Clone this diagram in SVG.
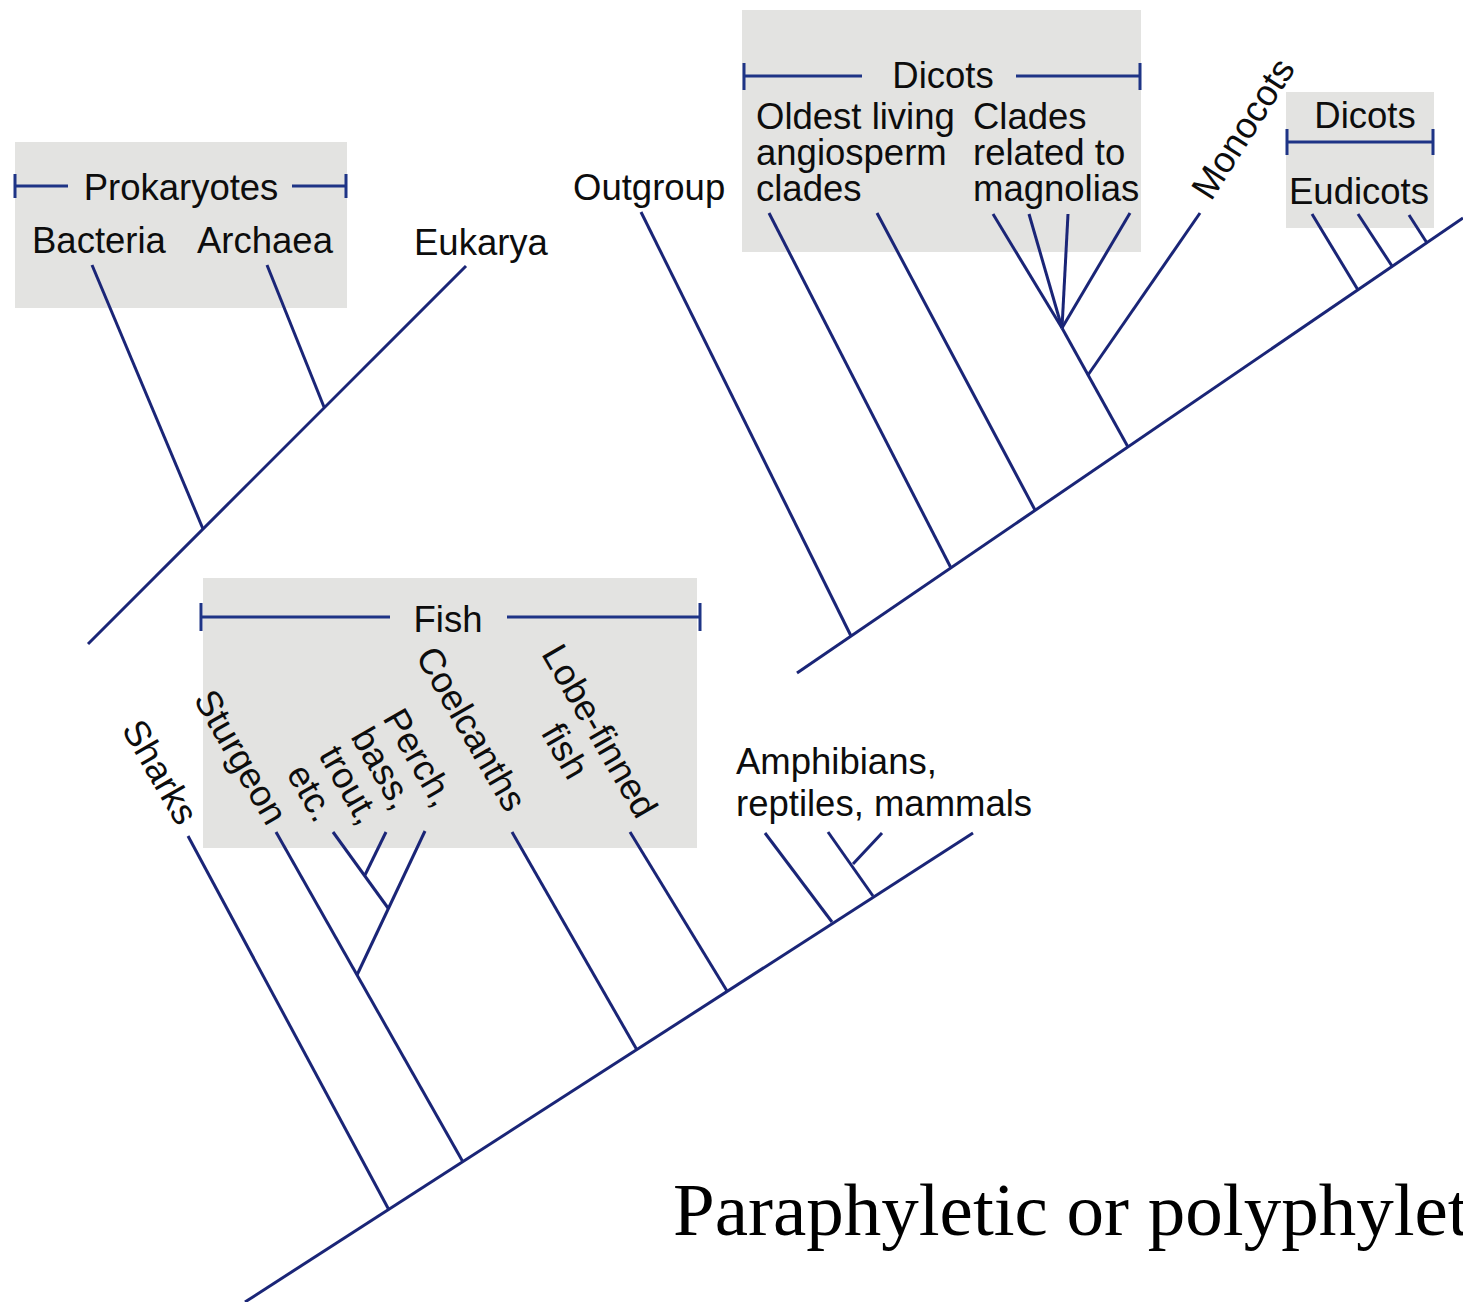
<svg xmlns="http://www.w3.org/2000/svg" width="1463" height="1302" viewBox="0 0 1463 1302">
<style>
.bg{fill:#ffffff}
.box{fill:#e3e3e1}
.ln{stroke:#1a2577;stroke-width:3;stroke-linecap:butt;fill:none}
.br{stroke:#1e3486;stroke-width:3;fill:none}
.t{font-family:"Liberation Sans",Arial,sans-serif;font-size:36.5px;fill:#0d0d0d}
.s{font-family:"Liberation Serif","Times New Roman",serif;font-size:75px;fill:#000}
</style>
<rect class="bg" x="0" y="0" width="1463" height="1302"/>
<g id="boxes">
<rect class="box" x="15" y="142" width="332" height="166"/>
<rect class="box" x="742" y="10" width="399" height="242"/>
<rect class="box" x="1286" y="92" width="148" height="136"/>
<rect class="box" x="203" y="578" width="494" height="270"/>
</g>
<g id="connectors">
<line class="ln" x1="88" y1="644" x2="466" y2="266"/>
<line class="ln" x1="92" y1="265" x2="203" y2="529"/>
<line class="ln" x1="267" y1="265" x2="324" y2="407"/>
<line class="ln" x1="797" y1="673" x2="1463" y2="218"/>
<line class="ln" x1="641" y1="212" x2="851" y2="636"/>
<line class="ln" x1="769" y1="213" x2="951" y2="568"/>
<line class="ln" x1="877" y1="213" x2="1035" y2="510"/>
<line class="ln" x1="1128" y1="447" x2="1062" y2="328"/>
<line class="ln" x1="1062" y1="328" x2="993" y2="214"/>
<line class="ln" x1="1062" y1="328" x2="1029" y2="214"/>
<line class="ln" x1="1062" y1="328" x2="1068" y2="214"/>
<line class="ln" x1="1062" y1="328" x2="1130" y2="213"/>
<line class="ln" x1="1088" y1="375" x2="1200" y2="213"/>
<line class="ln" x1="1312" y1="214" x2="1358" y2="290"/>
<line class="ln" x1="1358" y1="214" x2="1392" y2="266"/>
<line class="ln" x1="1409" y1="215" x2="1427" y2="243"/>
<line class="ln" x1="245" y1="1302" x2="973" y2="833"/>
<line class="ln" x1="188" y1="836" x2="389" y2="1210"/>
<line class="ln" x1="276" y1="832" x2="463" y2="1162"/>
<line class="ln" x1="425" y1="831" x2="357" y2="975"/>
<line class="ln" x1="333" y1="832" x2="388" y2="908"/>
<line class="ln" x1="386" y1="832" x2="365" y2="875"/>
<line class="ln" x1="512" y1="832" x2="637" y2="1050"/>
<line class="ln" x1="630" y1="832" x2="727" y2="991"/>
<line class="ln" x1="765" y1="833" x2="832" y2="922"/>
<line class="ln" x1="828" y1="832" x2="873" y2="896"/>
<line class="ln" x1="853" y1="864" x2="882" y2="833"/>
</g>
<g id="brackets">
<path class="br" d="M15 186H68M292 186H346M15 174V198M346 174V198"/>
<path class="br" d="M744 76H862M1016 76H1140M744 63V90M1140 63V90"/>
<path class="br" d="M1287 142H1433M1287 129V155M1433 129V155"/>
<path class="br" d="M201 617H390M507 617H700M201 603V631M700 603V631"/>
</g>
<g id="prokaryotes"><text class="t" x="181" y="200" text-anchor="middle">Prokaryotes</text></g>
<g id="bacteria"><text class="t" x="32" y="253">Bacteria</text></g>
<g id="archaea"><text class="t" x="197" y="253">Archaea</text></g>
<g id="eukarya"><text class="t" x="414" y="255">Eukarya</text></g>
<g id="outgroup"><text class="t" x="573" y="200">Outgroup</text></g>
<g id="dicots-top"><text class="t" x="943" y="88" text-anchor="middle">Dicots</text></g>
<g id="oldest"><text class="t" x="756" y="129">Oldest living<tspan x="756" dy="36">angiosperm</tspan><tspan x="756" dy="36">clades</tspan></text></g>
<g id="magnolias"><text class="t" x="973" y="129">Clades<tspan x="973" dy="36">related to</tspan><tspan x="973" dy="36">magnolias</tspan></text></g>
<g id="monocots"><text class="t" transform="translate(1211,202) rotate(-57.5)">Monocots</text></g>
<g id="dicots-right"><text class="t" x="1365" y="128" text-anchor="middle">Dicots</text></g>
<g id="eudicots"><text class="t" x="1289" y="204">Eudicots</text></g>
<g id="fish"><text class="t" x="448" y="632" text-anchor="middle">Fish</text></g>
<g id="sharks"><text class="t" transform="translate(121,729) rotate(60)">Sharks</text></g>
<g id="sturgeon"><text class="t" transform="translate(193,699) rotate(60)">Sturgeon</text></g>
<g id="perch"><text class="t" transform="translate(382,718) rotate(60)">Perch,<tspan x="0" dy="37">bass,</tspan><tspan x="0" dy="37">trout,</tspan><tspan x="0" dy="37">etc.</tspan></text></g>
<g id="coelcanths"><text class="t" transform="translate(415,656) rotate(60)">Coelcanths</text></g>
<g id="lobefinned"><text class="t" transform="translate(541,654) rotate(60)" text-anchor="middle"><tspan x="96" y="0">Lobe-finned</tspan><tspan x="96" dy="40">fish</tspan></text></g>
<g id="amphibians"><text class="t" x="736" y="774">Amphibians,<tspan x="736" dy="42">reptiles, mammals</tspan></text></g>
<g id="caption"><text class="s" x="673" y="1235">Paraphyletic or polyphylet</text></g>
</svg>
